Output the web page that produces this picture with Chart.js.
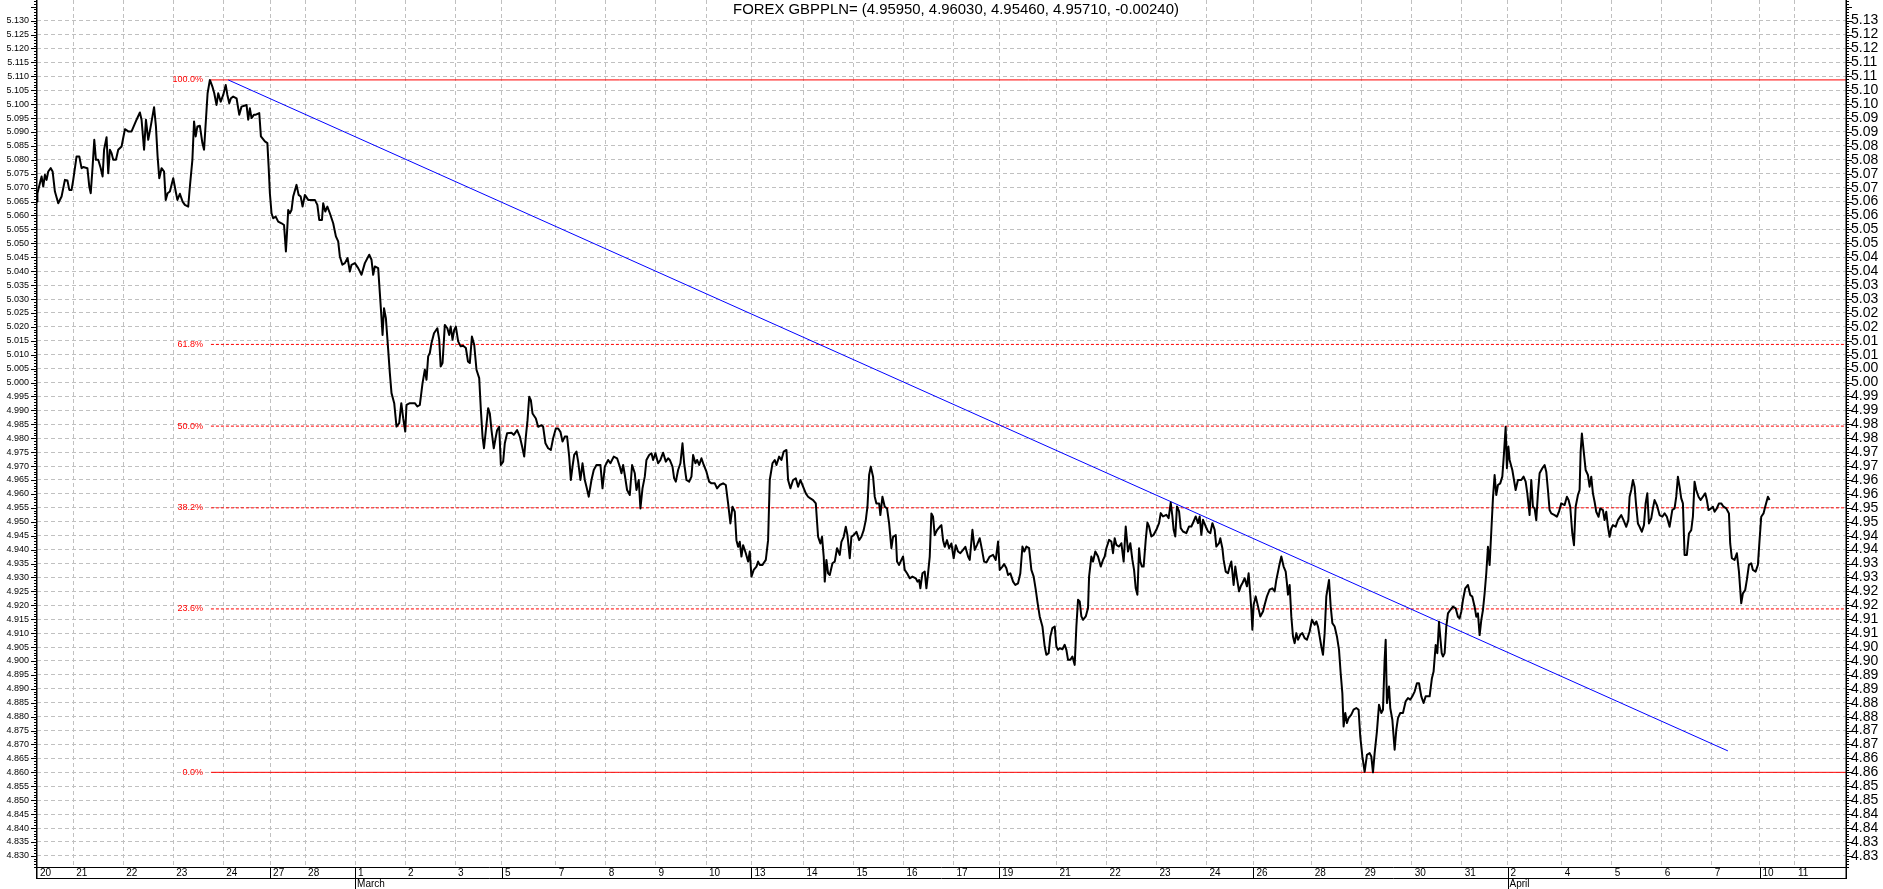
<!DOCTYPE html>
<html>
<head>
<meta charset="utf-8">
<title>FOREX GBPPLN=</title>
<script src="https://cdn.jsdelivr.net/npm/chart.js@4.4.0/dist/chart.umd.min.js"></script>
<style>
  html, body { margin: 0; padding: 0; background: #fff; }
  #wrap { width: 1883px; height: 889px; position: relative; }
</style>
</head>
<body>
<div id="wrap"><canvas id="chart"></canvas></div>
<script>
const titleText = "FOREX GBPPLN= (4.95950, 4.96030, 4.95460, 4.95710, -0.00240)";

// x values are hourly bars counted from the left edge of the chart
const dayBars = [0, 17.4, 41.4, 65.4, 89.4, 111.9, 128.7, 152.7, 176.7, 200.7, 223.2, 249, 273, 297, 321.2,
  343, 368, 392, 416, 440, 462, 489.5, 513.5, 537.5, 561.5, 584, 612, 636, 660, 684, 706, 732, 756, 780, 804, 827, 844];
const dayLabels = ["20", "21", "22", "23", "24", "27", "28", "1", "2", "3", "5", "7", "8", "9", "10",
  "13", "14", "15", "16", "17", "19", "21", "22", "23", "24", "26", "28", "29", "30", "31", "2", "4", "5", "6", "7", "10", "11"];
const weekBars = [111.9, 223.2, 343, 462, 584, 706, 827];
const monthBars = [152.7, 706];
const monthLabels = ["March", "April"];
const lastBar = 868.5;

const yMin = 4.826, yMax = 5.1374;
const yTickFrom = 4830, yTickTo = 5130, yTickStep = 5; // in thousandths

// fibonacci retracement between the high and the low
const fibHigh = 5.1087, fibLow = 4.8600;
const fibLevels = [1, 0.618, 0.5, 0.382, 0.236, 0];
const fibStartBar = 83.5;

// trend line
const trendBars = [91.8, 811.8];
const trendValues = [5.1087, 4.8677];

// closing prices [bar, close], one array per week
const wk1 = [[0,5.0650],[0.2,5.0680],[2.2,5.0740],[3.0,5.0704],[3.8,5.0746],[4.6,5.0728],[5.4,5.0758],[6.6,5.0770],[7.5,5.0758],[8.6,5.0686],
  [10.2,5.0644],[11.8,5.0668],[13.4,5.0728],[14.6,5.0726],[15.5,5.0692],[16.6,5.0692],[17.4,5.0728],[19.0,5.0812],[20.3,5.0812],[21.4,5.0770],
  [22.2,5.0774],[24.2,5.0770],[25.1,5.0704],[25.8,5.0680],[26.7,5.0776],[27.5,5.0872],[28.3,5.0800],[29.4,5.0800],[30.6,5.0770],[31.5,5.0740],
  [32.2,5.0836],[33.4,5.0881],[34.2,5.0752],[35.0,5.0836],[35.8,5.0824],[36.6,5.0800],[37.9,5.0800],[39.0,5.0836],[40.6,5.0848],[42.2,5.0910],
  [43.8,5.0902],[45.4,5.0902],[47.8,5.0944],[49.4,5.0970],[50.2,5.0944],[51.4,5.0836],[52.3,5.0944],[53.4,5.0872],[54.6,5.0920],[56.2,5.0989],
  [57.1,5.0920],[57.9,5.0812],[58.7,5.0734],[59.8,5.0770],[61.0,5.0758],[61.8,5.0656],[62.7,5.0680],[63.8,5.0686],[65.4,5.0734],[66.6,5.0686],
  [67.4,5.0656],[68.6,5.0678],[69.9,5.0650],[71.0,5.0638],[72.6,5.0632],[73.4,5.0704],[74.6,5.0800],[75.4,5.0938],[76.2,5.0884],[77.0,5.0920],
  [78.2,5.0922],[79.4,5.0860],[80.2,5.0836],[81.1,5.0944],[81.9,5.1039],[83.0,5.1087],[84.2,5.1063],[85.1,5.1039],[86.2,5.0997],[87.0,5.1039],
  [88.2,5.1009],[89.4,5.1033],[90.6,5.1069],[91.4,5.1033],[92.3,5.1003],[93.1,5.1021],[94.2,5.1027],[95.8,5.1021],[97.1,5.0962],[98.2,5.0991],
  [99.5,5.0994],[100.6,5.0997],[101.4,5.0944],[102.2,5.0985],[103.0,5.0950],[104.2,5.0962],[105.1,5.0962],[106.7,5.0968],[107.5,5.0884],[109.4,5.0866],
  [110.6,5.0860],[111.2,5.0776]];
const wk2 = [[111.8,5.0680],[112.6,5.0608],[113.4,5.0590],[114.6,5.0596],[115.8,5.0578],[117.4,5.0572],[118.6,5.0566],[119.5,5.0471],[120.2,5.0560],[120.6,5.0620],
  [121.4,5.0608],[122.2,5.0620],[123.0,5.0668],[124.6,5.0710],[125.6,5.0674],[126.6,5.0668],[127.5,5.0632],[128.6,5.0674],[130.2,5.0656],[133.4,5.0656],
  [134.6,5.0638],[135.5,5.0584],[136.8,5.0584],[137.4,5.0644],[138.4,5.0614],[139.4,5.0632],[140.6,5.0608],[142.2,5.0572],[143.5,5.0525],[144.6,5.0507],
  [145.4,5.0453],[146.6,5.0423],[147.8,5.0429],[149.1,5.0447],[150.2,5.0399],[151.0,5.0423],[152.6,5.0429],[154.2,5.0411],[155.8,5.0387],[157.4,5.0429],
  [159.5,5.0459],[160.6,5.0441],[161.4,5.0387],[162.2,5.0417],[163.8,5.0411],[164.6,5.0321],[165.4,5.0231],[165.9,5.0171],[166.6,5.0267],[167.5,5.0231],
  [168.6,5.0118],[169.4,5.0034],[170.2,4.9962],[171.5,4.9926],[172.6,4.9842],[173.9,4.9854],[174.9,4.9926],[175.8,4.9872],[176.8,4.9824],[177.4,4.9920],
  [179.0,4.9926],[181.4,4.9926],[182.6,4.9914],[183.8,4.9920],[185.1,4.9998],[186.2,5.0046],[187.0,5.0010],[187.8,5.0094],[188.6,5.0106],[189.4,5.0142],
  [190.6,5.0177],[192.2,5.0195],[193.1,5.0154],[193.8,5.0058],[194.7,5.0070],[195.8,5.0207],[197.0,5.0195],[197.9,5.0171],[198.6,5.0201],[199.5,5.0154],
  [200.3,5.0189],[201.1,5.0201],[202.2,5.0148],[203.4,5.0130],[204.6,5.0132],[205.9,5.0124],[206.9,5.0076],[207.8,5.0070],[208.8,5.0165],[209.9,5.0136],
  [211.0,5.0046],[212.3,5.0016],[213.1,4.9902],[213.9,4.9806],[214.6,4.9764],[216.6,4.9908],[217.4,4.9889],[218.2,4.9829],[219.3,4.9764],[220.3,4.9806],
  [220.9,4.9829],[221.9,4.9841],[222.7,4.9704]];
const wk3 = [[223.8,4.9716],[224.6,4.9782],[225.7,4.9818],[227.8,4.9820],[228.9,4.9812],[230.5,4.9829],[231.8,4.9806],[232.9,4.9770],[233.9,4.9734],[234.7,4.9806],
  [235.5,4.9865],[236.3,4.9949],[237.1,4.9937],[237.9,4.9889],[239.5,4.9871],[240.6,4.9841],[242.2,4.9847],[243.0,4.9841],[244.1,4.9782],[245.4,4.9764],
  [246.7,4.9758],[247.8,4.9800],[249.1,4.9835],[250.2,4.9835],[251.3,4.9823],[252.3,4.9788],[253.4,4.9806],[254.5,4.9806],[255.5,4.9734],[256.3,4.9650],
  [257.1,4.9698],[257.9,4.9740],[259.0,4.9752],[259.8,4.9716],[260.9,4.9650],[261.9,4.9710],[263.0,4.9650],[263.8,4.9626],[264.9,4.9590],[266.2,4.9650],
  [267.3,4.9686],[268.6,4.9704],[270.5,4.9704],[271.5,4.9620],[272.6,4.9698],[274.2,4.9722],[275.3,4.9710],[276.9,4.9734],[278.5,4.9728],[279.8,4.9698],
  [280.6,4.9674],[281.4,4.9704],[282.2,4.9668],[283.3,4.9614],[284.6,4.9596],[285.7,4.9704],[287.0,4.9674],[287.8,4.9614],[288.9,4.9650],[289.7,4.9548],
  [290.7,4.9620],[291.8,4.9662],[292.6,4.9722],[293.9,4.9740],[295.0,4.9746],[295.8,4.9722],[296.9,4.9746],[298.2,4.9710],[299.3,4.9722],[300.6,4.9748],
  [301.9,4.9716],[303.0,4.9728],[303.8,4.9722],[305.1,4.9698],[305.9,4.9656],[306.7,4.9644],[307.8,4.9686],[308.9,4.9710],[309.9,4.9782],[310.7,4.9710],
  [311.8,4.9650],[313.1,4.9644],[314.2,4.9662],[315.0,4.9740],[316.1,4.9710],[316.9,4.9722],[317.9,4.9704],[319.0,4.9728],[320.1,4.9704],[321.4,4.9680],
  [322.7,4.9644],[323.8,4.9638],[325.4,4.9638],[326.5,4.9620],[327.8,4.9632],[329.4,4.9638],[330.7,4.9632],[331.8,4.9566],[332.9,4.9494],[333.9,4.9554],
  [335.0,4.9536],[335.8,4.9434],[336.6,4.9410],[337.4,4.9428],[338.2,4.9375],[339.0,4.9416],[340.3,4.9387],[341.4,4.9357],[342.2,4.9393]];
const wk4 = [[343.0,4.9303],[344.1,4.9327],[345.4,4.9339],[346.2,4.9357],[347.0,4.9345],[348.3,4.9345],[349.9,4.9363],[351.0,4.9434],[351.8,4.9650],[353.1,4.9710],
  [354.2,4.9722],[355.0,4.9704],[356.3,4.9734],[357.4,4.9722],[358.5,4.9752],[359.8,4.9758],[360.6,4.9650],[361.7,4.9620],[363.0,4.9650],[364.3,4.9656],
  [365.4,4.9626],[366.5,4.9650],[367.8,4.9626],[369.1,4.9602],[370.2,4.9590],[371.3,4.9584],[372.6,4.9578],[373.9,4.9566],[375.0,4.9446],[376.1,4.9422],
  [376.9,4.9446],[377.7,4.9375],[378.2,4.9285],[379.0,4.9363],[379.8,4.9315],[380.6,4.9309],[381.9,4.9351],[383.0,4.9357],[384.1,4.9405],[385.4,4.9381],
  [386.2,4.9428],[387.3,4.9446],[388.3,4.9482],[389.1,4.9452],[390.2,4.9369],[391.0,4.9446],[392.1,4.9452],[393.4,4.9464],[394.7,4.9434],[395.8,4.9446],
  [396.9,4.9470],[397.9,4.9506],[398.7,4.9554],[399.5,4.9668],[400.3,4.9698],[401.4,4.9662],[402.2,4.9590],[403.0,4.9566],[404.3,4.9566],[404.9,4.9524],
  [405.9,4.9590],[407.0,4.9554],[408.1,4.9548],[409.1,4.9494],[410.2,4.9405],[411.0,4.9446],[412.3,4.9452],[412.9,4.9357],[413.9,4.9345],[415.0,4.9363],
  [415.8,4.9375],[416.6,4.9327],[417.7,4.9315],[419.0,4.9297],[420.3,4.9303],[421.9,4.9297],[422.7,4.9285],[423.5,4.9291],[424.1,4.9261],[425.1,4.9315],
  [426.2,4.9321],[427.0,4.9261],[427.8,4.9315],[428.6,4.9375],[429.4,4.9530],[430.2,4.9518],[431.0,4.9452],[432.1,4.9470],[433.4,4.9482],[434.2,4.9488],
  [435.0,4.9434],[435.8,4.9410],[436.9,4.9434],[437.9,4.9405],[439.0,4.9422],[440.1,4.9369],[441.1,4.9416],[442.2,4.9393],[443.3,4.9387],[444.6,4.9399],
  [445.7,4.9410],[447.0,4.9375],[447.8,4.9363],[448.1,4.9387],[449.1,4.9471],[450.2,4.9399],[451.3,4.9417],[452.6,4.9441],[453.7,4.9399],[454.7,4.9357],
  [455.8,4.9354],[457.4,4.9375],[459.0,4.9381],[460.3,4.9363],[461.4,4.9429]];
const wk5 = [[462.2,4.9327],[463.5,4.9339],[464.3,4.9348],[465.4,4.9333],[466.2,4.9309],[467.3,4.9315],[468.6,4.9285],[469.7,4.9273],[471.0,4.9279],[472.1,4.9315],
  [473.1,4.9411],[474.0,4.9393],[475.0,4.9411],[476.3,4.9405],[477.4,4.9327],[478.5,4.9303],[479.5,4.9256],[480.4,4.9208],[481.4,4.9160],[482.7,4.9124],
  [483.8,4.9052],[484.6,4.9022],[485.7,4.9028],[486.5,4.9088],[487.5,4.9118],[488.6,4.9124],[489.4,4.9052],[490.2,4.9040],[491.0,4.9046],[492.3,4.9042],
  [493.4,4.9058],[494.2,4.9040],[495.0,4.9004],[496.1,4.9004],[497.1,4.9016],[498.2,4.8986],[499.0,4.9124],[499.8,4.9220],[500.6,4.9214],[501.4,4.9160],
  [502.2,4.9148],[503.5,4.9160],[504.6,4.9190],[505.1,4.9303],[506.2,4.9375],[507.0,4.9357],[508.1,4.9393],[509.4,4.9375],[510.7,4.9339],[511.8,4.9363],
  [512.6,4.9375],[513.4,4.9405],[514.7,4.9435],[515.8,4.9429],[516.6,4.9387],[517.4,4.9441],[518.2,4.9417],[519.5,4.9411],[520.6,4.9423],[521.7,4.9357],
  [522.7,4.9483],[523.8,4.9393],[524.9,4.9423],[525.9,4.9363],[526.7,4.9327],[527.5,4.9261],[528.3,4.9238],[529.1,4.9405],[529.7,4.9357],[530.5,4.9339],
  [531.3,4.9339],[532.3,4.9435],[533.1,4.9497],[533.9,4.9483],[535.0,4.9447],[536.1,4.9453],[537.4,4.9471],[538.7,4.9495],[539.5,4.9531],[540.6,4.9519],
  [542.2,4.9525],[543.3,4.9513],[544.3,4.9569],[545.1,4.9519],[545.7,4.9471],[546.5,4.9447],[547.3,4.9555],[548.3,4.9537],[549.1,4.9477],[550.2,4.9465],
  [551.8,4.9459],[553.1,4.9483],[554.2,4.9483],[555.3,4.9501],[556.3,4.9519],[557.4,4.9495],[558.2,4.9519],[559.0,4.9453],[559.8,4.9507],[561.1,4.9483],
  [562.2,4.9465],[563.3,4.9459],[564.3,4.9495],[565.4,4.9471],[566.2,4.9411],[567.5,4.9423],[568.1,4.9441],[569.1,4.9405],[569.7,4.9363],[570.7,4.9321],
  [571.8,4.9315],[572.6,4.9339],[573.4,4.9357],[574.5,4.9273],[575.3,4.9339],[576.1,4.9297],[577.1,4.9250],[577.9,4.9268],[578.7,4.9279],[579.8,4.9297],
  [580.9,4.9268],[581.7,4.9315],[582.5,4.9238],[583.0,4.9184],[583.5,4.9112]];
const wk6 = [[584.1,4.9202],[585.1,4.9232],[586.2,4.9196],[587.3,4.9160],[588.6,4.9178],[589.4,4.9202],[590.5,4.9232],[591.8,4.9256],[593.1,4.9261],[594.2,4.9250],
  [595.0,4.9291],[596.3,4.9339],[597.4,4.9375],[598.5,4.9339],[599.5,4.9321],[600.1,4.9279],[600.6,4.9238],[601.4,4.9273],[602.2,4.9160],[603.0,4.9088],
  [603.8,4.9064],[604.6,4.9100],[605.4,4.9076],[606.5,4.9094],[607.5,4.9100],[608.6,4.9082],[609.7,4.9076],[611.0,4.9106],[612.1,4.9148],[613.4,4.9130],
  [614.2,4.9142],[615.0,4.9124],[615.8,4.9088],[616.6,4.9052],[617.4,4.9022],[618.2,4.9100],[619.0,4.9232],[620.3,4.9291],[621.1,4.9196],[621.9,4.9136],
  [623.0,4.9124],[624.1,4.9088],[625.1,4.9040],[625.9,4.8956],[626.7,4.8884],[627.3,4.8765],[628.1,4.8813],[628.9,4.8777],[629.7,4.8795],[631.0,4.8807],
  [632.1,4.8825],[633.4,4.8831],[634.5,4.8825],[635.3,4.8729],[636.3,4.8657],[637.4,4.8602],[638.5,4.8663],[639.8,4.8669],[640.6,4.8657],[641.4,4.8600],
  [642.2,4.8669],[643.3,4.8747],[644.3,4.8843],[645.4,4.8813],[646.2,4.8825],[647.0,4.9004],[647.5,4.9076],[648.1,4.8849],[649.1,4.8908],[649.7,4.8831],
  [650.7,4.8789],[651.8,4.8681],[652.6,4.8753],[653.4,4.8795],[654.5,4.8813],[655.8,4.8813],[657.1,4.8855],[658.2,4.8867],[659.3,4.8861],[660.3,4.8873],
  [661.4,4.8890],[662.5,4.8920],[663.5,4.8920],[664.6,4.8873],[665.7,4.8849],[666.7,4.8873],[668.6,4.8873],[669.7,4.8938],[670.5,4.8962],[671.5,4.9057],
  [672.3,4.9028],[673.1,4.9141],[673.7,4.9087],[674.4,4.9028],[675.0,4.9016],[675.8,4.9028],[676.6,4.9123],[677.4,4.9171],[678.5,4.9183],[679.8,4.9195],
  [681.1,4.9189],[682.2,4.9159],[683.0,4.9153],[683.8,4.9177],[684.6,4.9219],[685.7,4.9261],[687.0,4.9273],[688.1,4.9237],[689.1,4.9231],[690.2,4.9195],
  [691.0,4.9159],[691.8,4.9171],[692.6,4.9093],[693.4,4.9147],[694.2,4.9183],[695.0,4.9243],[695.8,4.9315],[696.6,4.9410],[697.4,4.9345],[698.2,4.9464],
  [699.0,4.9584],[699.8,4.9668],[700.6,4.9596],[701.4,4.9632],[702.5,4.9638],[703.5,4.9662],[704.3,4.9746],[705.1,4.9841],[705.7,4.9692]];
const wk7 = [[706.4,4.9770],[707.0,4.9722],[708.3,4.9686],[709.1,4.9650],[709.9,4.9614],[711.0,4.9650],[712.6,4.9650],[713.7,4.9662],[714.7,4.9644],[715.5,4.9602],
  [716.6,4.9524],[717.4,4.9650],[718.2,4.9554],[719.0,4.9548],[719.8,4.9506],[720.6,4.9602],[721.4,4.9674],[722.7,4.9692],[723.8,4.9704],[724.6,4.9680],
  [725.4,4.9614],[726.2,4.9542],[727.0,4.9530],[728.6,4.9524],[729.7,4.9518],[730.7,4.9536],[731.8,4.9566],[733.4,4.9560],[734.5,4.9590],[735.3,4.9578],
  [736.1,4.9554],[737.1,4.9458],[737.9,4.9416],[738.7,4.9554],[739.8,4.9596],[740.6,4.9614],[741.1,4.9752],[741.7,4.9817],[742.5,4.9758],[743.5,4.9686],
  [744.6,4.9668],[745.4,4.9626],[746.2,4.9662],[747.0,4.9602],[747.8,4.9572],[748.6,4.9536],[749.7,4.9518],[750.5,4.9548],[751.8,4.9542],[752.6,4.9506],
  [753.4,4.9536],[754.2,4.9482],[755.0,4.9446],[755.8,4.9476],[756.6,4.9488],[757.9,4.9482],[759.0,4.9506],[760.6,4.9524],[761.7,4.9506],[763.0,4.9482],
  [764.0,4.9506],[764.6,4.9590],[765.4,4.9614],[766.2,4.9650],[767.0,4.9626],[767.8,4.9554],[768.6,4.9494],[769.4,4.9482],[770.5,4.9464],[771.5,4.9488],
  [772.3,4.9566],[773.1,4.9602],[773.9,4.9494],[775.0,4.9512],[775.8,4.9548],[776.6,4.9578],[777.7,4.9560],[779.0,4.9524],[780.3,4.9518],[781.4,4.9530],
  [782.5,4.9518],[783.8,4.9482],[785.1,4.9542],[786.2,4.9548],[787.0,4.9590],[787.8,4.9662],[788.6,4.9626],[789.4,4.9584],[790.2,4.9566],[791.0,4.9381],
  [792.1,4.9381],[793.1,4.9458],[794.2,4.9470],[795.0,4.9518],[795.8,4.9644],[796.6,4.9614],[797.7,4.9590],[798.7,4.9578],[799.8,4.9590],[800.9,4.9602],
  [801.7,4.9578],[802.5,4.9542],[803.8,4.9548],[804.6,4.9554],[805.4,4.9536],[806.5,4.9548],[807.5,4.9566],[808.6,4.9566],[809.7,4.9554],[811.0,4.9548],
  [812.3,4.9530],[812.9,4.9422],[813.7,4.9369],[815.0,4.9363],[816.1,4.9387],[817.1,4.9321],[818.2,4.9207],[819.0,4.9243],[820.1,4.9255],[820.9,4.9291],
  [821.9,4.9345],[823.0,4.9351],[823.8,4.9327],[825.1,4.9321],[826.2,4.9345]];
const wk8 = [[827.0,4.9434],[827.8,4.9518],[828.9,4.9530],[829.7,4.9554],[831.0,4.9590],[831.8,4.9578]];

const series = [...wk1, ...wk2, ...wk3, ...wk4, ...wk5, ...wk6, ...wk7, ...wk8];

const FONT = '"Liberation Sans", Arial, sans-serif';
const GRID = '#c0c0c0';

const yTicks = [];
for (let k = yTickFrom; k <= yTickTo; k += yTickStep) yTicks.push(k / 1000);

function fixWidth(w) {
  return s => { s.width = w; s.paddingTop = 0; s.paddingBottom = 0; };
}
function fixHeight(h) {
  return s => { s.height = h; s.paddingLeft = 0; s.paddingRight = 0; };
}

const fibSets = fibLevels.map(l => ({
  label: (l * 100).toFixed(1) + '%',
  data: [{ x: fibStartBar, y: fibLow + l * (fibHigh - fibLow) }, { x: lastBar, y: fibLow + l * (fibHigh - fibLow) }],
  borderColor: '#ff0000',
  borderWidth: 1,
  borderDash: (l === 0 || l === 1) ? [] : [3, 2],
  pointRadius: 0,
  order: 2
}));

// frame, minor ticks, date band, fib labels
const frame = {
  id: 'frame',
  beforeDatasetsDraw(chart) {
    const { ctx } = chart;
    ctx.save();
    ctx.font = '14.9px ' + FONT;
    const tw = ctx.measureText(titleText).width;
    const cx = 956;
    ctx.fillStyle = '#fff';
    ctx.fillRect(cx - tw / 2 - 2, 0, tw + 4, 18);
    ctx.fillStyle = '#000';
    ctx.textAlign = 'center';
    ctx.textBaseline = 'middle';
    ctx.fillText(titleText, cx, 10);
    ctx.restore();
  },
  afterDraw(chart) {
    const { ctx, chartArea: a, scales } = chart;
    const x = scales.x, y = scales.y;
    ctx.save();
    ctx.strokeStyle = '#000';
    ctx.lineWidth = 1;
    ctx.beginPath();
    for (let k = Math.round(yMin * 1000); k <= Math.round(yMax * 1000); k++) {
      const py = Math.round(y.getPixelForValue(k / 1000)) + 0.5;
      const len = k % 5 === 0 ? 6 : 3;
      ctx.moveTo(a.left - len, py); ctx.lineTo(a.left, py);
      ctx.moveTo(a.right, py); ctx.lineTo(a.right + len, py);
    }
    // band
    const b1 = a.bottom + 0.5, b2 = a.bottom + 11.5, b3 = chart.height;
    ctx.moveTo(a.left, b1); ctx.lineTo(a.right, b1);
    ctx.moveTo(a.left, b2); ctx.lineTo(a.right, b2);
    weekBars.forEach(v => {
      const px = Math.round(x.getPixelForValue(v)) + 0.5;
      ctx.moveTo(px, b1); ctx.lineTo(px, b2);
    });
    monthBars.forEach(v => {
      const px = Math.round(x.getPixelForValue(v)) + 0.5;
      ctx.moveTo(px, b1); ctx.lineTo(px, b3);
    });
    ctx.stroke();
    // axis lines
    ctx.lineWidth = 1.5;
    ctx.beginPath();
    ctx.moveTo(a.left - 0.25, 0); ctx.lineTo(a.left - 0.25, a.bottom + 12);
    ctx.moveTo(a.right + 0.25, 0); ctx.lineTo(a.right + 0.25, a.bottom + 12);
    ctx.stroke();
    // fib labels
    ctx.font = '9px ' + FONT;
    ctx.fillStyle = '#ff0000';
    ctx.textAlign = 'right';
    ctx.textBaseline = 'middle';
    const lx = x.getPixelForValue(fibStartBar) - 8;
    fibLevels.forEach(l => {
      ctx.fillText((l * 100).toFixed(1) + '%', lx, y.getPixelForValue(fibLow + l * (fibHigh - fibLow)));
    });
    ctx.restore();
  }
};

new Chart(document.getElementById('chart'), {
  type: 'line',
  data: {
    datasets: [
      {
        label: 'GBPPLN',
        data: series.map(([b, c]) => ({ x: b, y: c })),
        borderColor: '#000',
        borderWidth: 2,
        borderJoinStyle: 'round',
        pointRadius: 0,
        tension: 0,
        order: 0
      },
      {
        label: 'trend',
        data: trendBars.map((b, i) => ({ x: b, y: trendValues[i] })),
        borderColor: '#0000ff',
        borderWidth: 1,
        pointRadius: 0,
        order: 1
      },
      ...fibSets
    ]
  },
  options: {
    responsive: true,
    maintainAspectRatio: false,
    devicePixelRatio: 1,
    animation: false,
    events: [],
    layout: { padding: 0, autoPadding: false },
    plugins: { legend: { display: false }, tooltip: { enabled: false }, title: { display: false } },
    scales: {
      x: {
        type: 'linear', position: 'bottom', min: 0, max: lastBar, weight: 1,
        afterBuildTicks: s => { s.ticks = dayBars.map(v => ({ value: v })); },
        afterFit: fixHeight(11),
        ticks: {
          autoSkip: false, maxRotation: 0, align: 'start', labelOffset: 3, padding: 0,
          font: { family: FONT, size: 10 }, color: '#000',
          callback: (v, i) => dayLabels[i]
        },
        grid: { color: c => (c.tick && c.tick.value === 0) ? 'rgba(0,0,0,0)' : GRID, drawTicks: false },
        border: { display: false, dash: [4, 3] }
      },
      x2: {
        type: 'linear', position: 'bottom', min: 0, max: lastBar, weight: 2,
        afterBuildTicks: s => { s.ticks = monthBars.map(v => ({ value: v })); },
        afterFit: fixHeight(11),
        ticks: {
          autoSkip: false, maxRotation: 0, align: 'start', labelOffset: 2, padding: 0,
          font: { family: FONT, size: 10 }, color: '#000',
          callback: (v, i) => monthLabels[i]
        },
        grid: { display: false, drawTicks: false },
        border: { display: false }
      },
      y: {
        type: 'linear', position: 'left', min: yMin, max: yMax,
        afterBuildTicks: s => { s.ticks = yTicks.map(v => ({ value: v })); },
        afterFit: fixWidth(37),
        ticks: {
          autoSkip: false, padding: 8, font: { family: FONT, size: 9 }, color: '#000',
          callback: v => v.toFixed(3)
        },
        grid: { color: GRID, drawTicks: false },
        border: { display: false, dash: [4, 3] }
      },
      y2: {
        type: 'linear', position: 'right', min: yMin, max: yMax,
        afterBuildTicks: s => { s.ticks = yTicks.map(v => ({ value: v })); },
        afterFit: fixWidth(37),
        ticks: {
          autoSkip: false, padding: 5, font: { family: FONT, size: 14 }, color: '#000',
          callback: v => (Math.floor(v * 100 + 1e-6) / 100).toFixed(2)
        },
        grid: { drawOnChartArea: false, drawTicks: false },
        border: { display: false }
      }
    }
  },
  plugins: [frame]
});
</script>
</body>
</html>
